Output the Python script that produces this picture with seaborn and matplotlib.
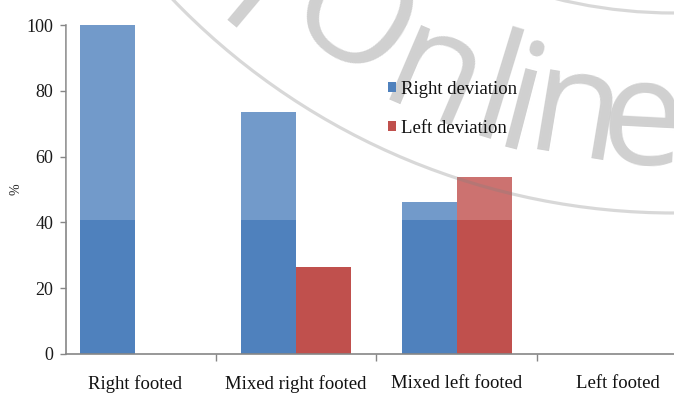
import numpy as np
import pandas as pd
import matplotlib
matplotlib.use("Agg")
import matplotlib.pyplot as plt
from matplotlib.patches import Rectangle, Circle
from matplotlib.transforms import IdentityTransform
import seaborn as sns

# ---- data ----
categories = ["Right footed", "Mixed right footed", "Mixed left footed", "Left footed"]
right_deviation = [100.0, 73.5, 46.2, 0.0]
left_deviation = [0.0, 26.5, 53.8, 0.0]
series_names = ["Right deviation", "Left deviation"]
y_ticks = [0, 20, 40, 60, 80, 100]

BLUE = "#4F81BD"
RED = "#C0504D"
GRAY = "#868686"

df = pd.DataFrame({
    "group": categories * 2,
    "pct": right_deviation + left_deviation,
    "deviation": [series_names[0]] * len(categories) + [series_names[1]] * len(categories),
})

sns.set_theme(style="white")
plt.rcParams["font.family"] = ["Liberation Serif", "DejaVu Serif"]

W, H = 674, 396
fig = plt.figure(figsize=(W / 100, H / 100), dpi=100)
ax = fig.add_axes([66 / W, (H - 354) / H, 1 - 66 / W, (354 - 25) / H])

sns.barplot(data=df, x="group", y="pct", hue="deviation", order=categories,
            hue_order=series_names, palette=[BLUE, RED], saturation=1,
            width=0.683, linewidth=0, ax=ax)

handles, labels = ax.get_legend_handles_labels()
if ax.get_legend() is not None:
    ax.get_legend().remove()

ax.set_ylim(0, 100)
ax.set_xlim(-0.43, 3.35)
ax.set_yticks(y_ticks)
ax.set_yticklabels([str(v) for v in y_ticks])
ax.set_xlabel("")
ax.set_ylabel("%", fontsize=10, color="#222222")
ax.yaxis.set_label_coords(-0.072, 0.5)

for s in ["top", "right"]:
    ax.spines[s].set_visible(False)
for s in ["left", "bottom"]:
    ax.spines[s].set_color(GRAY)
    ax.spines[s].set_linewidth(1.2)

ax.tick_params(axis="y", which="major", left=True, length=4.3, width=1.0,
               color=GRAY, direction="out", pad=5, labelsize=13, labelcolor="#1a1a1a")
ax.tick_params(axis="x", which="major", bottom=False, length=0, pad=15,
               labelsize=13.5, labelcolor="#111111")
ax.set_xticks([0.5, 1.5, 2.5], minor=True)
ax.tick_params(axis="x", which="minor", bottom=True, length=5, width=1.0,
               color=GRAY, direction="out")

# ---- watermark (decorative overlay present in the source image) ----
fig.add_artist(Rectangle((66 / W, 1 - 220 / H), 1, 220 / H, transform=fig.transFigure,
                         facecolor="white", edgecolor="none", alpha=0.2, zorder=1))

cx, cy = 674, 482  # ring centre, pixels from the top-left corner
for r in (695, 495):
    fig.add_artist(Circle((cx, H + cy), r, transform=IdentityTransform(), fill=False,
                          edgecolor="#808080", alpha=0.3, linewidth=2.3, zorder=2))

wm_letters = ["r", "O", "n", "l", "i", "n", "e"]
wm_centres = [(262, 8), (358, 12), (433, 80), (500, 86), (523, 98), (575, 117), (643, 125)]
wm_half_height = [40, 55, 40, 57, 55, 40, 40]
for ch, (vx, vy), hh in zip(wm_letters, wm_centres, wm_half_height):
    a = np.arctan2(cx - vx, vy + cy)            # angle from the ring's vertical
    bx = vx - hh * np.sin(a)                     # baseline anchor (top-down pixels)
    by = vy + hh * np.cos(a)
    fig.text(bx, H - by, ch, transform=IdentityTransform(), fontsize=108,
             family=["Open Sans", "DejaVu Sans"], fontweight="normal",
             color="#8a8a8a", alpha=0.4, rotation=-np.degrees(a), rotation_mode="anchor",
             ha="center", va="baseline", zorder=3)

fig.legend(handles, labels, loc="upper left", bbox_to_anchor=(388 / W, 1 - 81 / H),
           frameon=False, fontsize=13.5, handlelength=0.45, handleheight=0.45,
           handletextpad=0.25, labelspacing=1.15, borderpad=0, borderaxespad=0)
for txt in fig.legends[0].get_texts():
    txt.set_color("#111111")

fig.savefig("out.png", dpi=100)
